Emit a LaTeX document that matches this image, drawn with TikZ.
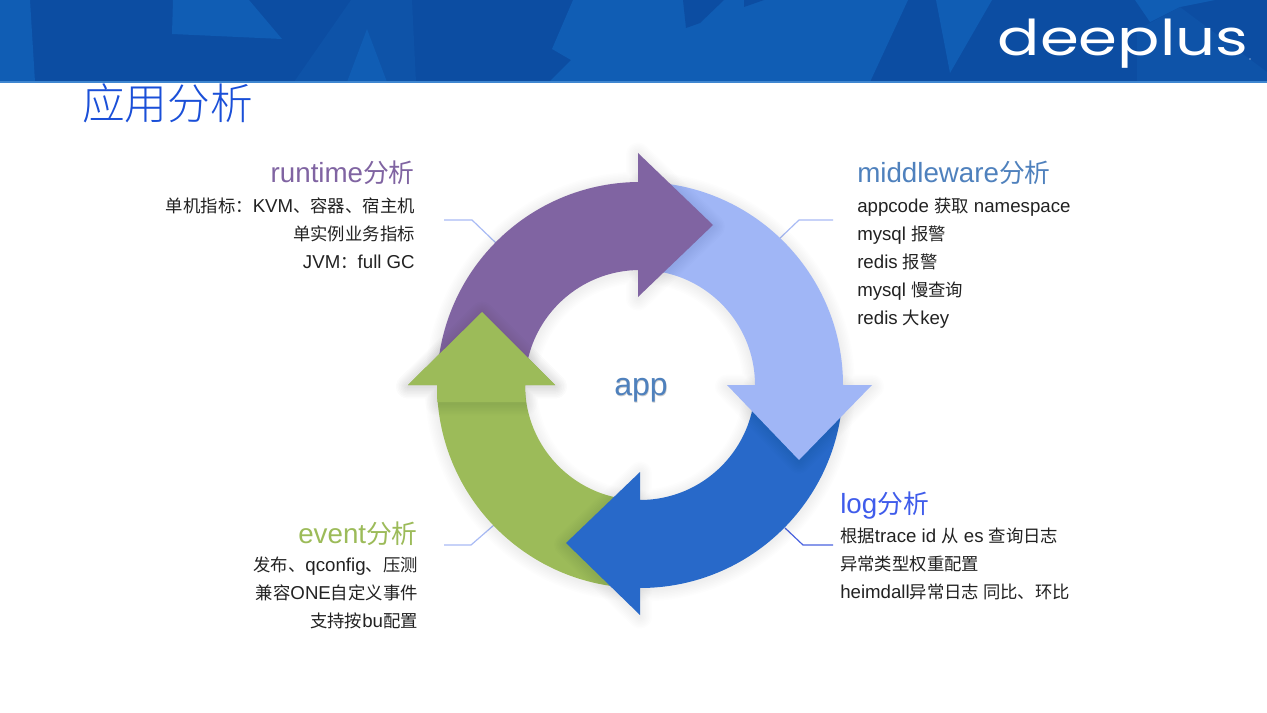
\documentclass[tikz,border=0pt]{standalone}
\usepackage{fontspec}
\setmainfont{Liberation Sans}
\newfontfamily\cj[Scale=0.93]{Noto Sans CJK SC}
\newfontfamily\cjt{Noto Sans CJK SC Light}
\newfontfamily\logofont{Poppins}
\newcommand\zh[1]{{\cj #1}}
\definecolor{hdr}{HTML}{0C4DA2}
\definecolor{hdrlight}{HTML}{105DB4}
\definecolor{hdrmid}{HTML}{0E53A8}
\definecolor{hdrline}{HTML}{3F86D0}
\definecolor{cpurple}{HTML}{8064A2}
\definecolor{clight}{HTML}{A0B6F6}
\definecolor{cblue}{HTML}{2869C9}
\definecolor{cgreen}{HTML}{9CBB59}
\definecolor{chead}{HTML}{4F81BD}
\definecolor{clog}{HTML}{3F5CEB}
\definecolor{leadlight}{HTML}{A9BBF5}
\definecolor{leaddark}{HTML}{4A63E0}
\definecolor{ctitle}{HTML}{1A4FD8}
\definecolor{ctext}{HTML}{222222}
\newcommand\softshadow[1]{%
  \foreach \w in {3,6,9,12,15,18,21,24}{%
    \draw[black,opacity=.009,line width=\w*.75pt,line join=round,yshift=-1.2pt] #1;}}
\newcommand\purplepath{(437.8,367.3) arc[start angle=175,end angle=90,radius=152.25pt] -- (638,182) -- (638,153) -- (713,225) -- (638,297) -- (638,270) -- (640,270) arc[start angle=90,end angle=175,radius=86.25pt] -- cycle}
\newcommand\lightpath{(640,182) arc[start angle=90,end angle=0,radius=152.25pt] -- (872,385) -- (799,460) -- (727,385) -- (755,385) arc[start angle=0,end angle=90,radius=86.25pt] -- cycle}
\newcommand\bluepath{(843,385) arc[start angle=0,end angle=-90,radius=152.25pt] -- (640,615) -- (566,543) -- (640,472) -- (640,500) arc[start angle=-90,end angle=0,radius=86.25pt] -- cycle}
\newcommand\greenpath{(640,588) arc[start angle=-90,end angle=-180,radius=152.25pt] -- (408,385) -- (482,312) -- (555,385) -- (525,385) arc[start angle=-180,end angle=-90,radius=86.25pt] -- cycle}
\newcommand\greenhead{(437.3,402) -- (437,385) -- (408,385) -- (482,312) -- (555,385) -- (525,385) -- (525.6,402) -- cycle}
\tikzset{
  bodyl/.style={anchor=base west,inner sep=0pt,text=ctext,font=\fontsize{14pt}{15pt}\selectfont},
  bodyr/.style={anchor=base east,inner sep=0pt,text=ctext,font=\fontsize{14pt}{15pt}\selectfont},
  headl/.style={anchor=base west,inner sep=0pt,font=\fontsize{20.8pt}{24pt}\selectfont},
  headr/.style={anchor=base east,inner sep=0pt,font=\fontsize{20.8pt}{24pt}\selectfont},
  leader/.style={line width=.9pt,line join=round},
}
\begin{document}
\begin{tikzpicture}[x=.75pt,y=-.75pt]
\useasboundingbox (0,0) rectangle (1267,713);
\fill[white] (0,0) rectangle (1267,713);
% header
\fill[hdr] (0,0) rectangle (1267,82);
\fill[hdrlight] (0,0) -- (30,0) -- (35,82) -- (0,82) -- cycle;
\fill[hdrmid] (351,0) -- (412,0) -- (416,82) -- (294,82) -- cycle;
\fill[hdrlight] (173,0) -- (249,0) -- (282,39) -- (172,34) -- cycle;
\fill[hdrlight] (367,29) -- (387,82) -- (347,82) -- cycle;
\fill[hdrlight] (573,0) -- (908,0) -- (870,82) -- (549,82) -- (571,60) -- (552,49) -- cycle;
\fill[hdr] (683,0) -- (724,0) -- (700,23) -- (686,28) -- cycle;
\fill[hdr] (744,0) -- (764,0) -- (744,7) -- cycle;
\fill[hdrlight] (936,0) -- (992,0) -- (950,73) -- cycle;
\fill[hdrlight] (1135,0) -- (1215,0) -- (1180,7) -- (1150,22) -- cycle;
\fill[hdrmid] (1137,30) -- (1180,7) -- (1267,72) -- (1267,82) -- (1137,82) -- cycle;
\fill[hdrline] (0,81.5) rectangle (1267,82.8);
\node[inner sep=0pt,anchor=base,text=white,font=\logofont\fontsize{37pt}{40pt}\selectfont,xscale=1.27] (logo) at (1123,56) {deeplus};
\fill[white] (1250,59) circle (.6);
% title
\node[anchor=west,inner sep=0pt,text=ctitle,font=\cjt\fontsize{32pt}{36pt}\selectfont] (title) at (82,103) {应用分析};
% leaders
\coordinate (a1) at (444,220); \coordinate (a2) at (472,220); \coordinate (a3) at (496,243);
\coordinate (b1) at (833,220); \coordinate (b2) at (799,220); \coordinate (b3) at (778,240);
\coordinate (c1) at (833,545); \coordinate (c2) at (803,545); \coordinate (c3) at (785,528);
\coordinate (d1) at (444,545); \coordinate (d2) at (471,545); \coordinate (d3) at (494,525);
\draw[leader,leadlight] (a1) -- (a2) -- (a3);
\draw[leader,leadlight] (b1) -- (b2) -- (b3);
\draw[leader,leaddark] (c1) -- (c2) -- (c3);
\draw[leader,leadlight] (d1) -- (d2) -- (d3);
% ring
\softshadow{\greenpath}
\fill[cgreen] \greenpath;
\softshadow{\bluepath}
\fill[cblue] \bluepath;
\softshadow{\lightpath}
\fill[clight] \lightpath;
\softshadow{\purplepath}
\fill[cpurple] \purplepath;
\softshadow{\greenhead}
\fill[cgreen] \greenhead;
% centre
\node[inner sep=0pt,text=black,opacity=.2,font=\fontsize{24pt}{28pt}\selectfont,anchor=base] (appshadow) at (641.5,396.5) {app};
\node[inner sep=0pt,text=chead,font=\fontsize{24pt}{28pt}\selectfont,anchor=base] (app) at (641,395) {app};
% runtime
\node[headr,text=cpurple] (rt) at (415,183) {runtime\zh{分析}};
\node[bodyr] (rt1) at (415,212) {\zh{单机指标：}KVM\zh{、容器、宿主机}};
\node[bodyr] (rt2) at (415,240) {\zh{单实例业务指标}};
\node[bodyr] (rt3) at (415,268) {JVM\zh{：}full GC};
% middleware
\node[headl,text=chead] (mw) at (857,183) {middleware\zh{分析}};
\node[bodyl] (mw1) at (857,212) {appcode \zh{获取} namespace};
\node[bodyl] (mw2) at (857,240) {mysql \zh{报警}};
\node[bodyl] (mw3) at (857,268) {redis \zh{报警}};
\node[bodyl] (mw4) at (857,296) {mysql \zh{慢查询}};
\node[bodyl] (mw5) at (857,324) {redis \zh{大}key};
% log
\node[headl,text=clog] (lg) at (840,513) {log\zh{分析}};
\node[bodyl] (lg1) at (840,542) {\zh{根据}trace id \zh{从} es \zh{查询日志}};
\node[bodyl] (lg2) at (840,570) {\zh{异常类型权重配置}};
\node[bodyl] (lg3) at (840,598) {heimdall\zh{异常日志 同比、环比}};
% event
\node[headr,text=cgreen] (ev) at (418,543) {event\zh{分析}};
\node[bodyr] (ev1) at (418,571) {\zh{发布、}qconfig\zh{、压测}};
\node[bodyr] (ev2) at (418,599) {\zh{兼容}ONE\zh{自定义事件}};
\node[bodyr] (ev3) at (418,627) {\zh{支持按}bu\zh{配置}};
\end{tikzpicture}
\end{document}
